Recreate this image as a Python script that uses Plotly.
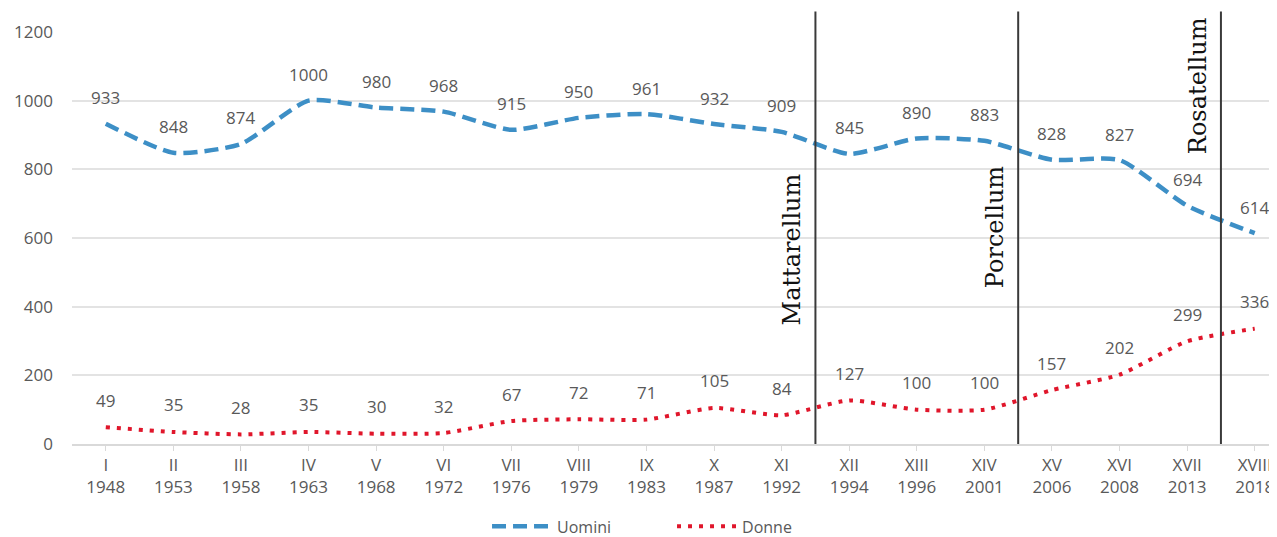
import plotly.graph_objects as go

legislature = ["I", "II", "III", "IV", "V", "VI", "VII", "VIII", "IX", "X", "XI",
               "XII", "XIII", "XIV", "XV", "XVI", "XVII", "XVIII"]
years = ["1948", "1953", "1958", "1963", "1968", "1972", "1976", "1979", "1983",
         "1987", "1992", "1994", "1996", "2001", "2006", "2008", "2013", "2018"]
uomini = [933, 848, 874, 1000, 980, 968, 915, 950, 961, 932, 909, 845, 890, 883, 828, 827, 694, 614]
donne = [49, 35, 28, 35, 30, 32, 67, 72, 71, 105, 84, 127, 100, 100, 157, 202, 299, 336]

laws = ["Mattarellum", "Porcellum", "Rosatellum"]
law_pos = [10.5, 13.5, 16.5]
law_label_y = [568, 632, 1045]

x = list(range(len(legislature)))
ticktext = [f"{a}<br>{b}" for a, b in zip(legislature, years)]

GRAY = "#595959"
FONT = "Open Sans"
BLUE = "#3d8fc6"
RED = "#e0162b"

fig = go.Figure()
fig.add_trace(go.Scatter(
    x=x, y=uomini, name="Uomini", mode="lines",
    line=dict(color=BLUE, width=4.5, dash="14px,7px", shape="spline", smoothing=0.6),
))
fig.add_trace(go.Scatter(
    x=x, y=donne, name="Donne", mode="lines",
    line=dict(color=RED, width=4, dash="4px,7px", shape="spline", smoothing=0.6),
))

annotations = []
for xi, v in zip(x, uomini):
    annotations.append(dict(x=xi, y=v, text=str(v), showarrow=False, yshift=26,
                            font=dict(family=FONT, size=17, color=GRAY)))
for xi, v in zip(x, donne):
    annotations.append(dict(x=xi, y=v, text=str(v), showarrow=False, yshift=27,
                            font=dict(family=FONT, size=17, color=GRAY)))

shapes = []
for name, pos, ly in zip(laws, law_pos, law_label_y):
    shapes.append(dict(type="line", xref="x", yref="paper", x0=pos, x1=pos, y0=0, y1=1.05,
                       line=dict(color="#3a3a3a", width=2)))
    annotations.append(dict(x=pos, y=ly, text=name, textangle=-90, showarrow=False,
                            xshift=-23, font=dict(family="DejaVu Serif", size=24, color="#111111")))

# the page body has an 8px margin, so the figure is sized to fit the 1277x537 window
fig.update_layout(
    width=1269, height=529,
    margin=dict(l=64, r=2, t=24, b=93, autoexpand=False),
    paper_bgcolor="white", plot_bgcolor="white",
    showlegend=True,
    legend=dict(orientation="h", x=0.345, xanchor="left", y=-0.2, yanchor="middle",
                font=dict(family=FONT, size=16, color=GRAY), itemwidth=60,
                entrywidth=110),
    annotations=annotations,
    shapes=shapes,
    xaxis=dict(range=[-0.5, 17.3], tickmode="array", tickvals=x, ticktext=ticktext,
               showgrid=False, showline=True, linecolor="#d9d9d9", linewidth=1.5,
               ticks="outside", ticklen=5, tickcolor="#d9d9d9", automargin=False,
               tickfont=dict(family=FONT, size=17, color=GRAY), zeroline=False),
    yaxis=dict(range=[0, 1200], tickvals=[0, 200, 400, 600, 800, 1000, 1200],
               showgrid=True, gridcolor="#e3e3e3", gridwidth=1.5, zeroline=False,
               showline=False, ticklabelstandoff=18, automargin=False,
               tickfont=dict(family=FONT, size=17, color=GRAY)),
)

fig.write_html("out.html")
